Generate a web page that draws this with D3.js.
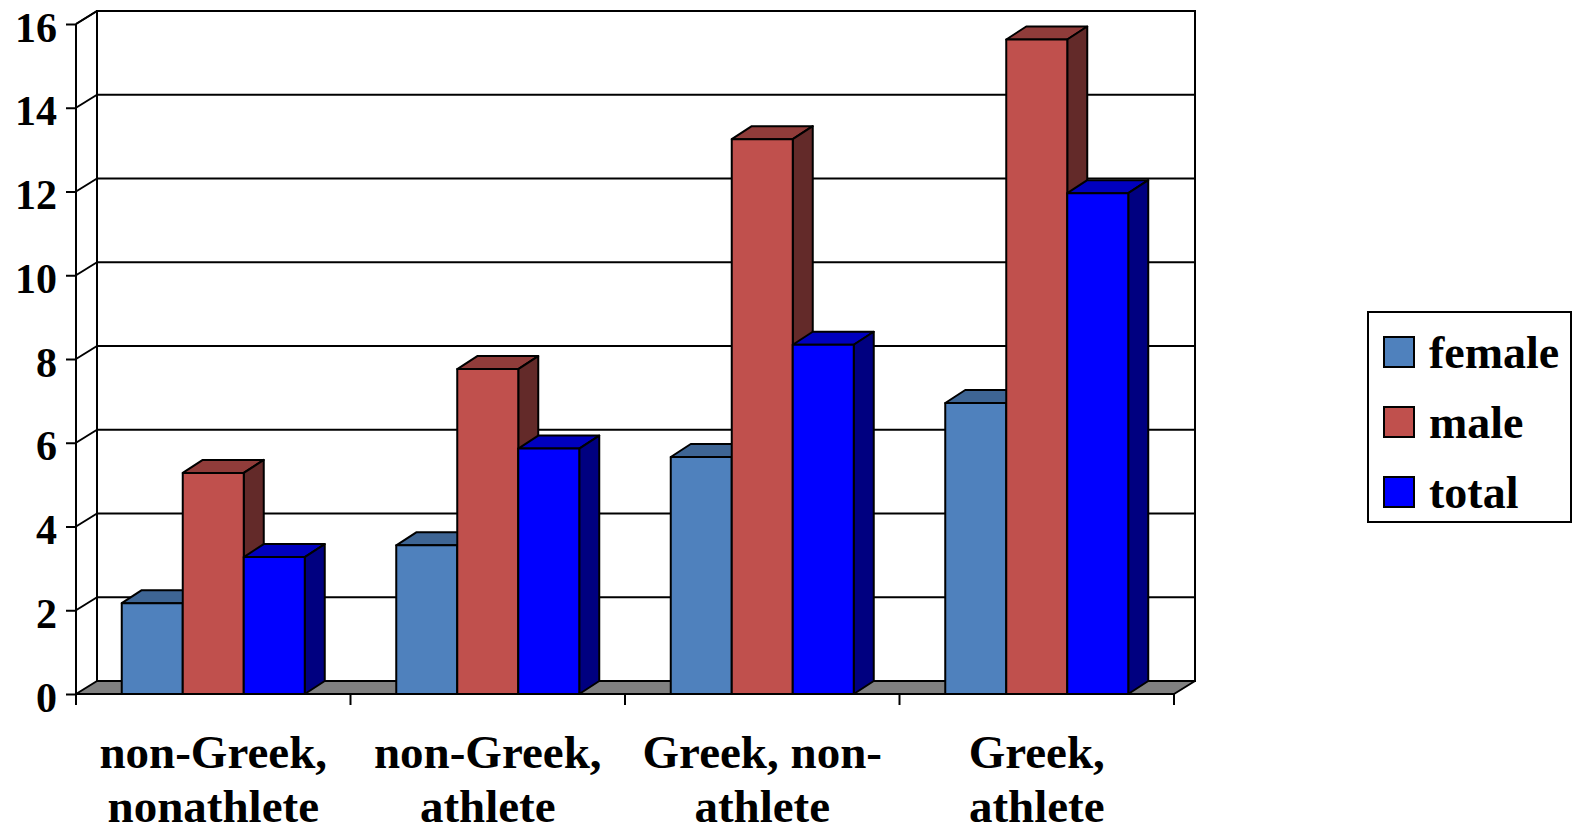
<!DOCTYPE html>
<html>
<head>
<meta charset="utf-8">
<script src="https://cdn.jsdelivr.net/npm/d3@7"></script>
<style>
  body { margin: 0; background: #fff; }
</style>
</head>
<body>
<div id="chart"></div>
<script>
// data
const categories = [["non-Greek,", "nonathlete"], ["non-Greek,", "athlete"], ["Greek, non-", "athlete"], ["Greek,", "athlete"]];
const seriesNames = ["female", "male", "total"];
const female = [2.17, 3.55, 5.66, 6.95];
const male = [5.28, 7.76, 13.25, 15.63];
const total = [3.27, 5.86, 8.34, 11.96];
const yTicks = [0, 2, 4, 6, 8, 10, 12, 14, 16];

const seriesValues = [female, male, total];
// front, top, side shades per series
const colors = [
    ["#4F81BD", "#3E6594", "#2B4A6E"],
    ["#C0504D", "#903C3A", "#632A29"],
    ["#0000FF", "#0000BF", "#000080"]
];

const FONT = "Liberation Serif";

function serif(sel, size) {
    return sel.attr("font-family", FONT)
        .style("font-family", FONT)
        .style("font-weight", "bold")
        .style("font-size", size + "px")
        .attr("fill", "#000");
}

const svg = d3.select("#chart")
    .append("svg")
    .attr("width", 1574)
    .attr("height", 832);

// depth offsets for the 3D look
const DX = 21, DY = -13;      // walls / floor
const BDX = 20, BDY = -13;    // bars

const catKeys = categories.map((c, i) => i);
const x = d3.scaleBand().domain(catKeys).range([76, 1174]);
const bw = x.bandwidth();
const x1 = d3.scaleBand().domain(seriesNames).range([bw / 6, bw * 5 / 6]);
const y = d3.scaleLinear().domain([0, 16]).range([694, 24]);

const x0 = x.range()[0], xEnd = x.range()[1];
const y0 = y(0), yTop = y(16);

const g = svg.append("g");

// back wall
g.append("rect")
    .attr("x", x0 + DX).attr("y", yTop + DY)
    .attr("width", xEnd - x0).attr("height", y0 - yTop)
    .attr("fill", "#fff").attr("stroke", "#000").attr("stroke-width", 2);

// left wall top edge
g.append("line")
    .attr("x1", x0).attr("y1", yTop).attr("x2", x0 + DX).attr("y2", yTop + DY)
    .attr("stroke", "#000").attr("stroke-width", 2);

// gridlines on back and side walls
yTicks.filter(t => t > 0 && t < 16).forEach(t => {
    g.append("line")
        .attr("x1", x0 + DX).attr("x2", xEnd + DX)
        .attr("y1", y(t) + DY).attr("y2", y(t) + DY)
        .attr("stroke", "#000").attr("stroke-width", 2);
});
yTicks.filter(t => t > 0).forEach(t => {
    g.append("line")
        .attr("x1", x0).attr("y1", y(t))
        .attr("x2", x0 + DX).attr("y2", y(t) + DY)
        .attr("stroke", "#000").attr("stroke-width", 2);
});

// floor
g.append("polygon")
    .attr("points", [[x0, y0], [xEnd, y0], [xEnd + DX, y0 + DY], [x0 + DX, y0 + DY]].map(p => p.join(",")).join(" "))
    .attr("fill", "#808080").attr("stroke", "#000").attr("stroke-width", 2)
    .attr("stroke-linejoin", "round");

// bars, drawn left to right so the right neighbour hides the side face
catKeys.forEach(ci => {
    seriesNames.forEach((s, si) => {
        const v = seriesValues[si][ci];
        const bx = x(ci) + x1(s);
        const w = x1.bandwidth();
        const yt = y(v);
        const c = colors[si];
        const bar = g.append("g")
            .attr("stroke", "#000").attr("stroke-width", 2).attr("stroke-linejoin", "round");

        bar.append("polygon")
            .attr("points", [[bx, yt], [bx + BDX, yt + BDY], [bx + w + BDX, yt + BDY], [bx + w, yt]].map(p => p.join(",")).join(" "))
            .attr("fill", c[1]);
        bar.append("polygon")
            .attr("points", [[bx + w, yt], [bx + w + BDX, yt + BDY], [bx + w + BDX, y0 + BDY], [bx + w, y0]].map(p => p.join(",")).join(" "))
            .attr("fill", c[2]);
        bar.append("rect")
            .attr("x", bx).attr("y", yt)
            .attr("width", w).attr("height", y0 - yt)
            .attr("fill", c[0]);
    });
});

// y axis
const yAxis = svg.append("g")
    .attr("transform", `translate(${x0},0)`)
    .call(d3.axisLeft(y).tickValues(yTicks).tickSize(10).tickPadding(9));
yAxis.attr("font-family", FONT);
yAxis.select(".domain").attr("stroke", "#000").attr("stroke-width", 2)
    .attr("d", `M0,${yTop}V${y0}`);
yAxis.selectAll(".tick line").attr("stroke", "#000").attr("stroke-width", 2);
serif(yAxis.selectAll(".tick text"), 42).attr("dy", "0.41em");

// x axis line + category ticks
const xAxis = svg.append("g");
xAxis.append("line")
    .attr("x1", x0).attr("x2", xEnd).attr("y1", y0).attr("y2", y0)
    .attr("stroke", "#000").attr("stroke-width", 2);
catKeys.concat([categories.length]).forEach(i => {
    const tx = i < categories.length ? x(i) : xEnd;
    xAxis.append("line")
        .attr("x1", tx).attr("x2", tx).attr("y1", y0).attr("y2", y0 + 11)
        .attr("stroke", "#000").attr("stroke-width", 2);
});

// category labels, two lines each
catKeys.forEach(i => {
    const t = serif(xAxis.append("text"), 47)
        .attr("text-anchor", "middle")
        .attr("x", x(i) + bw / 2)
        .attr("y", 768);
    categories[i].forEach((line, li) => {
        t.append("tspan")
            .attr("x", x(i) + bw / 2)
            .attr("y", 768 + li * 54)
            .text(line);
    });
});

// legend
const legend = svg.append("g");
legend.append("rect")
    .attr("x", 1368).attr("y", 312).attr("width", 203).attr("height", 210)
    .attr("fill", "#fff").attr("stroke", "#000").attr("stroke-width", 2);
seriesNames.forEach((s, i) => {
    const cy = 352 + i * 70;
    legend.append("rect")
        .attr("x", 1384).attr("y", cy - 15).attr("width", 30).attr("height", 30)
        .attr("fill", colors[i][0]).attr("stroke", "#000").attr("stroke-width", 2);
    serif(legend.append("text"), 46)
        .attr("x", 1429).attr("y", cy + 16)
        .text(s);
});
</script>
</body>
</html>
